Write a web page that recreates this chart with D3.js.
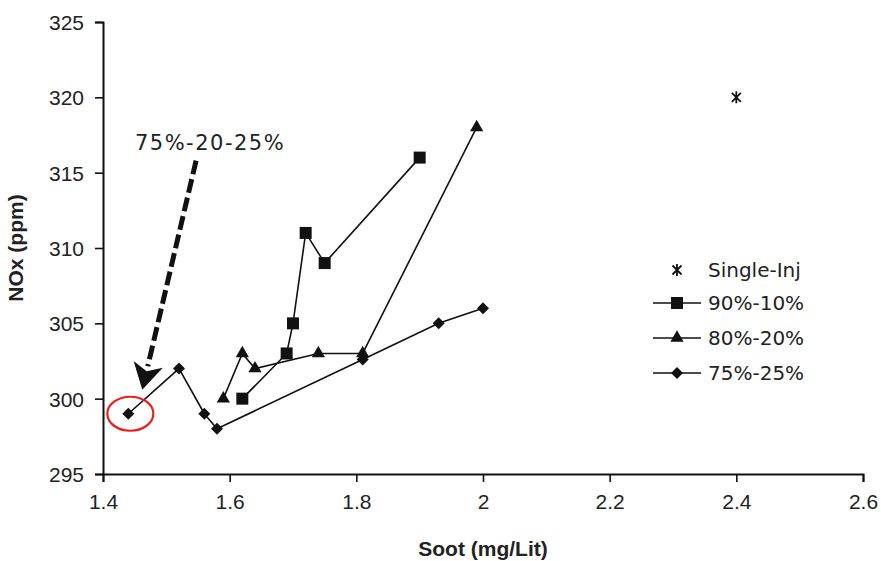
<!DOCTYPE html>
<html>
<head>
<meta charset="utf-8">
<script src="https://cdn.jsdelivr.net/npm/d3@7"></script>
<style>
  html, body { margin: 0; padding: 0; background: #fff; }
  svg { display: block; }
</style>
</head>
<body>
<svg id="chart" width="881" height="561"></svg>
<script>
// Soot vs NOx for different injection splits

const xTicks = [1.4, 1.6, 1.8, 2.0, 2.2, 2.4, 2.6];
const xTickLabels = ["1.4", "1.6", "1.8", "2", "2.2", "2.4", "2.6"];
const yTicks = [295, 300, 305, 310, 315, 320, 325];

const singleInj = [{ x: 2.4, y: 320 }];

const split90 = [
  { x: 1.62, y: 300 }, { x: 1.69, y: 303 }, { x: 1.70, y: 305 },
  { x: 1.72, y: 311 }, { x: 1.75, y: 309 }, { x: 1.90, y: 316 }
];

const split80 = [
  { x: 1.59, y: 300 }, { x: 1.62, y: 303 }, { x: 1.64, y: 302 },
  { x: 1.74, y: 303 }, { x: 1.81, y: 303 }, { x: 1.99, y: 318 }
];

const split75 = [
  { x: 1.44, y: 299 }, { x: 1.52, y: 302 }, { x: 1.56, y: 299 },
  { x: 1.58, y: 298 }, { x: 1.81, y: 302.6 }, { x: 1.93, y: 305 },
  { x: 2.00, y: 306 }
];

const legendLabels = ["Single-Inj", "90%-10%", "80%-20%", "75%-25%"];

// annotation, in data units
const noteText = "75%-20-25%";
const noteAt = { x: 1.569, y: 317.0 };
const arrowFrom = { x: 1.547, y: 315.8 };
const arrowTo = { x: 1.462, y: 300.6 };
const circled = split75[0];

const svg = d3.select("#chart");
const x = d3.scaleLinear().domain([1.4, 2.6]).range([103, 863]);
const y = d3.scaleLinear().domain([295, 325]).range([474, 22]);

const ink = "#111";
const tickFont = "'Liberation Sans', Arial, sans-serif";
const legendFont = "'DejaVu Sans', Verdana, sans-serif";

// axes
const xAxis = svg.append("g")
  .attr("transform", `translate(0,${y(295)})`)
  .call(d3.axisBottom(x).tickValues(xTicks).tickSizeOuter(0).tickSize(8)
    .tickFormat((d, i) => xTickLabels[i]));
const yAxis = svg.append("g")
  .attr("transform", `translate(${x(1.4)},0)`)
  .call(d3.axisLeft(y).tickValues(yTicks).tickSizeOuter(0).tickSize(8));

[xAxis, yAxis].forEach(g => {
  g.select(".domain").attr("stroke", ink).attr("stroke-width", 2);
  g.selectAll(".tick line").attr("stroke", ink).attr("stroke-width", 1.6);
  g.selectAll(".tick text")
    .attr("fill", "#222")
    .style("font-family", tickFont)
    .style("font-size", "21px");
});
xAxis.selectAll(".tick text").attr("dy", "1.15em");
yAxis.selectAll(".tick text").attr("x", -19).attr("dy", "0.36em");

// axis titles
svg.append("text")
  .attr("x", 483).attr("y", 556)
  .attr("text-anchor", "middle")
  .style("font-family", tickFont)
  .style("font-weight", "bold")
  .style("font-size", "21px")
  .attr("fill", "#222")
  .text("Soot (mg/Lit)");

svg.append("text")
  .attr("transform", `translate(23,${y(310)}) rotate(-90)`)
  .attr("text-anchor", "middle")
  .style("font-family", tickFont)
  .style("font-weight", "bold")
  .style("font-size", "21px")
  .attr("fill", "#222")
  .text("NOx (ppm)");

// markers
const diamond = "M0,-6L6,0L0,6L-6,0Z";
const square = d3.symbol(d3.symbolSquare, 144)();
const triangle = d3.symbol(d3.symbolTriangle, 76)();
const asterisk = "M-4.5,-4.5L4.5,4.5M-4.5,4.5L4.5,-4.5M0,-6L0,6";

const line = d3.line().x(d => x(d.x)).y(d => y(d.y));

const series = [
  { data: split75, shape: diamond },
  { data: split80, shape: triangle },
  { data: split90, shape: square }
];

series.forEach(s => {
  svg.append("path")
    .datum(s.data)
    .attr("d", line)
    .attr("fill", "none")
    .attr("stroke", ink)
    .attr("stroke-width", 1.6);
  svg.append("g")
    .selectAll("path")
    .data(s.data)
    .join("path")
      .attr("transform", d => `translate(${x(d.x)},${y(d.y)})`)
      .attr("d", s.shape)
      .attr("fill", ink);
});

svg.append("g")
  .selectAll("path")
  .data(singleInj)
  .join("path")
    .attr("transform", d => `translate(${x(d.x)},${y(d.y)})`)
    .attr("d", asterisk)
    .attr("fill", "none")
    .attr("stroke", ink)
    .attr("stroke-width", 1.8);

// annotation: red circle, dashed arrow, label
svg.append("ellipse")
  .attr("cx", x(circled.x) + 2)
  .attr("cy", y(circled.y))
  .attr("rx", 23).attr("ry", 17)
  .attr("fill", "none")
  .attr("stroke", "#e8201c")
  .attr("stroke-width", 2.2);

const ax0 = x(arrowFrom.x), ay0 = y(arrowFrom.y);
const ax1 = x(arrowTo.x), ay1 = y(arrowTo.y);
const len = Math.hypot(ax1 - ax0, ay1 - ay0);
const ux = (ax1 - ax0) / len, uy = (ay1 - ay0) / len;
const headLen = 26, headHalf = 15;
const bx = ax1 - ux * headLen, by = ay1 - uy * headLen;

svg.append("line")
  .attr("x1", ax0).attr("y1", ay0)
  .attr("x2", bx + ux * 2).attr("y2", by + uy * 2)
  .attr("stroke", ink)
  .attr("stroke-width", 5)
  .attr("stroke-dasharray", "14,5");

svg.append("path")
  .attr("d", `M${ax1},${ay1}L${bx - uy * headHalf},${by + ux * headHalf}` +
             `L${bx + ux * 7},${by + uy * 7}L${bx + uy * headHalf},${by - ux * headHalf}Z`)
  .attr("fill", ink);

svg.append("text")
  .attr("x", x(noteAt.x)).attr("y", y(noteAt.y))
  .attr("text-anchor", "middle")
  .attr("dy", "0.36em")
  .style("font-family", legendFont)
  .style("font-size", "21px")
  .style("letter-spacing", "1.5px")
  .attr("fill", "#222")
  .text(noteText);

// legend
const legend = svg.append("g").attr("transform", "translate(653,270)");
const rowGap = [0, 33, 68, 103];
const legendShapes = [asterisk, square, triangle, diamond];

legendLabels.forEach((lab, i) => {
  const row = legend.append("g").attr("transform", `translate(0,${rowGap[i]})`);
  if (i > 0) {
    row.append("line")
      .attr("x1", 0).attr("x2", 48)
      .attr("stroke", ink).attr("stroke-width", 1.6);
  }
  row.append("path")
    .attr("transform", "translate(24,0)")
    .attr("d", legendShapes[i])
    .attr("fill", i === 0 ? "none" : ink)
    .attr("stroke", i === 0 ? ink : "none")
    .attr("stroke-width", 1.8);
  row.append("text")
    .attr("x", 55).attr("dy", "0.36em")
    .style("font-family", legendFont)
    .style("font-size", "20px")
    .attr("fill", "#222")
    .text(lab);
});
</script>
</body>
</html>
